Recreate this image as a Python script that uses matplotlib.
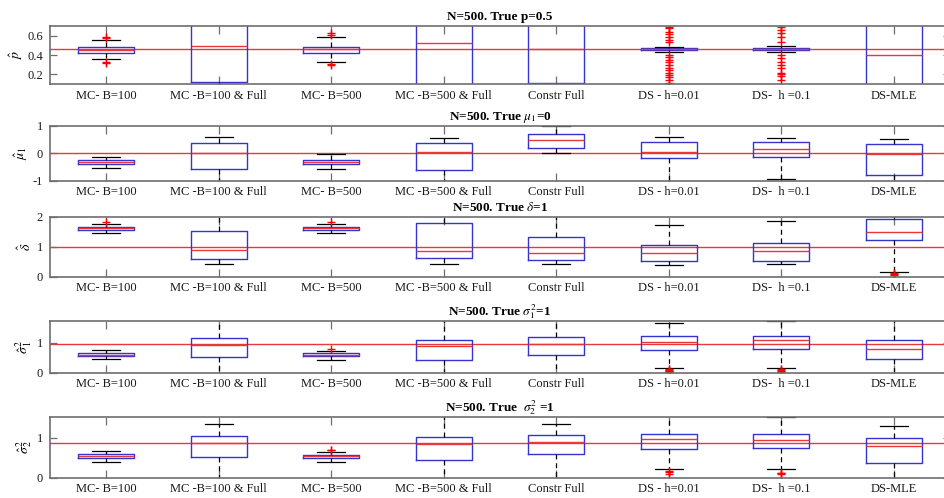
import matplotlib
matplotlib.use('Agg')
import matplotlib.pyplot as plt

plt.rcParams['font.family'] = ['Liberation Serif', 'DejaVu Serif']
plt.rcParams['mathtext.fontset'] = 'stix'

# 方法名
labels = ['MC- B=100', 'MC -B=100 & Full', 'MC- B=500', 'MC -B=500 & Full',
          'Constr Full', 'DS - h=0.01', 'DS-  h =0.1', 'DS-MLE']

# p
p_q1 = [0.424, 0.124, 0.424, 0.05, 0.107, 0.452, 0.450, 0.05]
p_med = [0.455, 0.493, 0.460, 0.527, 0.459, 0.460, 0.460, 0.400]
p_q3 = [0.486, 0.85, 0.486, 0.85, 0.85, 0.468, 0.470, 0.85]
p_lo = [0.356, 0.0, 0.331, 0.0, 0.102, 0.430, 0.430, 0.0]
p_hi = [0.555, 0.9, 0.583, 0.9, 0.9, 0.486, 0.490, 0.9]
p_fl = [[0.589, 0.579, 0.330, 0.320], [], [0.625, 0.607, 0.310, 0.300], [], [],
        [0.693, 0.676, 0.641, 0.614, 0.583, 0.555, 0.535, 0.400, 0.376, 0.348,
         0.324, 0.297, 0.269, 0.245, 0.217, 0.193, 0.169, 0.142, 0.114],
        [0.693, 0.659, 0.624, 0.589, 0.538, 0.400, 0.366, 0.331, 0.297, 0.262,
         0.217, 0.204, 0.183, 0.142],
        []]

# mu1
mu_q1 = [-0.39, -0.57, -0.39, -0.62, 0.18, -0.19, -0.13, -0.78]
mu_med = [-0.33, 0.02, -0.33, 0.04, 0.48, 0.06, 0.14, -0.03]
mu_q3 = [-0.25, 0.36, -0.25, 0.36, 0.70, 0.42, 0.42, 0.33]
mu_lo = [-0.55, -1.1, -0.57, -1.1, 0.0, -1.1, -0.95, -1.1]
mu_hi = [-0.13, 0.58, -0.04, 0.54, 0.98, 0.58, 0.56, 0.53]
mu_fl = [[], [], [], [], [], [], [], []]

# delta
d_q1 = [1.56, 0.58, 1.56, 0.61, 0.56, 0.53, 0.53, 1.22]
d_med = [1.61, 0.89, 1.61, 0.87, 0.80, 0.80, 0.87, 1.48]
d_q3 = [1.645, 1.52, 1.645, 1.78, 1.31, 1.07, 1.11, 1.92]
d_lo = [1.45, 0.41, 1.45, 0.42, 0.41, 0.39, 0.41, 0.17]
d_hi = [1.76, 2.1, 1.76, 2.1, 2.1, 1.73, 1.87, 2.1]
d_fl = [[1.82], [], [1.81], [], [], [], [], [0.11, 0.08, 0.06]]

# sigma1^2
s1_q1 = [0.56, 0.53, 0.55, 0.42, 0.59, 0.78, 0.81, 0.45]
s1_med = [0.61, 0.94, 0.60, 0.90, 0.98, 1.03, 1.09, 0.79]
s1_q3 = [0.67, 1.17, 0.66, 1.11, 1.20, 1.22, 1.25, 1.11]
s1_lo = [0.45, -0.1, 0.42, -0.1, -0.1, 0.17, 0.17, -0.1]
s1_hi = [0.76, 1.9, 0.73, 1.9, 1.9, 1.68, 1.74, 1.9]
s1_fl = [[], [], [0.81], [], [], [0.12, 0.09, 0.07, 0.05, 0.03],
         [0.11, 0.08, 0.06, 0.04], []]

# sigma2^2
s2_q1 = [0.48, 0.51, 0.49, 0.43, 0.58, 0.71, 0.73, 0.37]
s2_med = [0.53, 0.86, 0.53, 0.84, 0.90, 0.96, 0.93, 0.80]
s2_q3 = [0.58, 1.03, 0.57, 1.01, 1.07, 1.08, 1.08, 0.98]
s2_lo = [0.40, -0.1, 0.40, -0.1, -0.1, 0.22, 0.21, -0.1]
s2_hi = [0.67, 1.34, 0.65, 1.7, 1.34, 1.7, 1.51, 1.28]
s2_fl = [[], [], [0.69, 0.68], [], [], [0.16, 0.13, 0.10], [0.12, 0.11, 0.10], []]

truths = [0.46, 0.0, 1.0, 0.98, 0.86]
titles = ['N=500. True p=0.5', r'N=500. True $\mu_1$=0', r'N=500. True $\delta$=1',
          r'N=500. True $\sigma_1^2$=1', r'N=500. True  $\sigma_2^2$ =1']
ylabels = [r'$\hat{p}$', r'$\hat{\mu}_1$', r'$\hat{\delta}$',
           r'$\hat{\sigma}^2_1$', r'$\hat{\sigma}^2_2$']
ylims = [(0.1, 0.7), (-1, 1), (0, 2), (0, 1.75), (0, 1.52)]
yticks = [[0.2, 0.4, 0.6], [-1, 0, 1], [0, 1, 2], [0, 1], [0, 1]]
yticklabels = [['0.2', '0.4', '0.6'], ['-1', '0', '1'], ['0', '1', '2'], ['0', '1'], ['0', '1']]

panels = [
    (p_q1, p_med, p_q3, p_lo, p_hi, p_fl),
    (mu_q1, mu_med, mu_q3, mu_lo, mu_hi, mu_fl),
    (d_q1, d_med, d_q3, d_lo, d_hi, d_fl),
    (s1_q1, s1_med, s1_q3, s1_lo, s1_hi, s1_fl),
    (s2_q1, s2_med, s2_q3, s2_lo, s2_hi, s2_fl),
]

# 坐标轴位置 (像素 -> 比例)
W, H = 945, 498
ax_px = [(26, 84), (125.7, 180.7), (216.7, 276.7), (320.7, 372.7), (416.7, 477.7)]

fig = plt.figure(figsize=(W / 100, H / 100), dpi=100)

BLUE = '#3434d0'
RED = '#e8383a'
SPINE = '#6e6e6e'
TXT = '#1a1a1a'

for k, (q1, med, q3, lo, hi, fl) in enumerate(panels):
    top, bot = ax_px[k]
    ax = fig.add_axes([50 / W, 1 - bot / H, 900 / W, (bot - top) / H])
    stats = []
    for i in range(len(labels)):
        stats.append({'q1': q1[i], 'med': med[i], 'q3': q3[i],
                      'whislo': lo[i], 'whishi': hi[i],
                      'fliers': fl[i], 'label': labels[i]})
    ax.axhline(truths[k], color=RED, lw=1.0, zorder=1)
    ax.bxp(stats, positions=range(1, len(labels) + 1), widths=0.5, capwidths=0.25,
           boxprops=dict(color=BLUE, lw=1.0),
           medianprops=dict(color=RED, lw=1.0),
           whiskerprops=dict(color='black', lw=0.9, linestyle=(0, (4, 3))),
           capprops=dict(color='black', lw=0.9),
           flierprops=dict(marker='+', markeredgecolor='red', markersize=6,
                           markeredgewidth=1.0, linestyle='none'))
    ax.set_xlim(0.5, 8.5)
    ax.set_ylim(*ylims[k])
    ax.set_yticks(yticks[k])
    ax.set_yticklabels(yticklabels[k])
    ax.set_xticks(range(1, len(labels) + 1))
    ax.set_xticklabels(labels)
    ax.tick_params(axis='x', direction='in', length=6, width=0.9, color=SPINE,
                   top=True, labelsize=9, labelcolor=TXT, pad=4)
    ax.tick_params(axis='y', direction='in', length=5, width=0.9, color=SPINE,
                   right=True, labelsize=9, labelcolor=TXT, pad=5)
    for s in ax.spines.values():
        s.set_color(SPINE)
        s.set_linewidth(1.2)
    ax.set_title(titles[k], fontsize=9.5, fontweight='bold', pad=4)
    ax.set_ylabel(ylabels[k], fontsize=10, labelpad=2)

fig.savefig('out.png', dpi=100)
